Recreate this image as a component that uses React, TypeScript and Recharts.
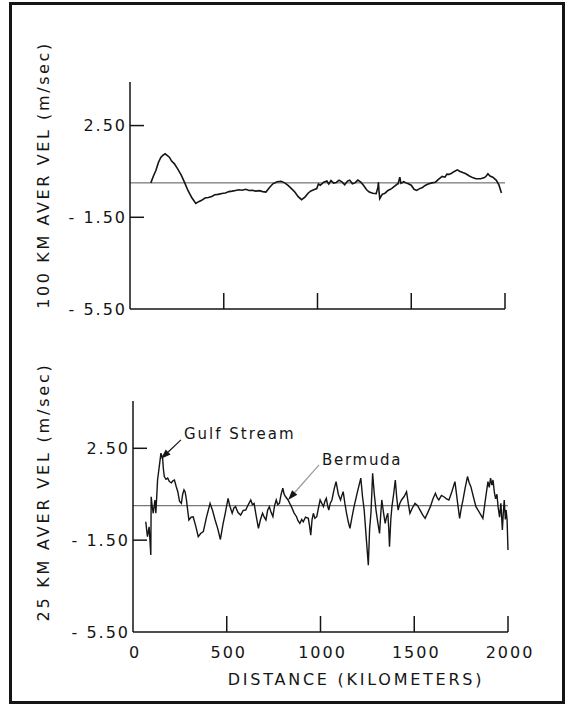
import React from "react";
import { LineChart, Line, XAxis, YAxis, ReferenceLine, ReferenceDot } from "recharts";

const FONT = "'DejaVu Sans', sans-serif";
const INK = "#151515";

// [distance km, velocity m/s] — 100 km running average (top panel)
const trace100: [number, number][] = [
  [111, 0.0], [125, 0.3], [138, 0.54], [152, 0.9], [165, 1.12], [175, 1.2], [187, 1.27], [198, 1.2],
  [210, 1.12], [222, 0.95], [237, 0.83], [255, 0.6], [274, 0.33], [292, 0.0], [309, -0.33], [330, -0.65],
  [351, -0.9], [366, -0.82], [382, -0.76], [400, -0.66], [418, -0.64], [436, -0.59], [452, -0.52], [470, -0.5],
  [490, -0.46], [508, -0.44], [528, -0.38], [545, -0.36], [563, -0.33], [580, -0.3], [598, -0.32], [617, -0.28],
  [635, -0.33], [652, -0.32], [671, -0.36], [690, -0.34], [708, -0.38], [725, -0.4], [744, -0.2], [762, -0.04],
  [785, 0.05], [806, 0.07], [825, 0.0], [843, -0.11], [861, -0.25], [879, -0.4], [897, -0.6], [915, -0.73],
  [933, -0.62], [951, -0.44], [965, -0.35], [980, -0.3], [996, -0.25], [1005, -0.05], [1015, -0.1], [1033, 0.03],
  [1050, 0.08], [1060, -0.05], [1072, 0.1], [1086, -0.01], [1100, 0.02], [1115, 0.12], [1132, 0.03], [1145, -0.08],
  [1160, 0.08], [1172, 0.12], [1186, -0.04], [1200, 0.0], [1215, 0.12], [1231, 0.03], [1245, -0.1], [1262, -0.3],
  [1276, -0.4], [1295, -0.45], [1313, -0.47], [1322, -0.2], [1325, 0.03], [1328, -0.35], [1332, -0.69], [1345, -0.5],
  [1360, -0.45], [1376, -0.33], [1395, -0.25], [1410, -0.15], [1425, -0.05], [1430, -0.04], [1439, 0.25], [1445, -0.02],
  [1460, 0.05], [1472, 0.0], [1484, -0.04], [1500, -0.1], [1515, -0.28], [1529, -0.33], [1545, -0.25], [1560, -0.2],
  [1574, -0.11], [1590, -0.05], [1610, 0.0], [1629, 0.03], [1645, 0.15], [1665, 0.28], [1680, 0.25], [1690, 0.38],
  [1701, 0.37], [1715, 0.42], [1730, 0.5], [1746, 0.57], [1760, 0.5], [1775, 0.45], [1791, 0.4], [1810, 0.3],
  [1830, 0.22], [1845, 0.18], [1870, 0.18], [1891, 0.23], [1900, 0.3], [1909, 0.4], [1920, 0.3], [1935, 0.25],
  [1954, 0.11], [1968, -0.1], [1981, -0.44],
];

// [distance km, velocity m/s] — 25 km running average (bottom panel)
const trace25: [number, number][] = [
  [68, -0.7], [77, -1.35], [86, -0.92], [95, -2.15], [97, 0.39], [102, 0.0], [108, -0.33], [117, 0.25],
  [122, -0.33], [131, 1.12], [140, 1.7], [149, 2.29], [158, 2.07], [162, 1.6], [167, 1.27], [176, 1.15],
  [185, 1.2], [194, 1.05], [205, 1.0], [213, 1.08], [221, 1.12], [230, 0.85], [239, 0.61], [248, 0.2],
  [258, 0.1], [265, 0.5], [272, 0.69], [278, 0.6], [285, 0.25], [298, -0.62], [310, -0.5], [321, -0.48],
  [335, -0.9], [348, -1.35], [362, -1.2], [375, -1.13], [392, -0.5], [411, 0.1], [424, -0.2], [438, -0.62],
  [452, -1.0], [466, -1.47], [480, -0.8], [492, -0.33], [507, 0.32], [516, 0.0], [529, -0.33], [538, -0.1],
  [547, -0.04], [560, -0.3], [574, -0.41], [588, -0.2], [601, -0.19], [615, 0.05], [628, 0.25], [637, 0.05],
  [646, 0.1], [656, -0.4], [669, -0.99], [680, -0.6], [691, -0.33], [700, -0.5], [709, -0.62], [718, -0.2],
  [727, -0.04], [737, -0.3], [746, -0.48], [755, 0.0], [764, 0.25], [772, 0.05], [781, 0.1], [790, 0.5],
  [799, 0.76], [806, 0.5], [814, 0.39], [827, 0.25], [836, 0.1], [845, -0.04], [858, -0.3], [872, -0.48],
  [880, -0.65], [890, -0.77], [900, -0.6], [908, -0.7], [920, -0.5], [935, -0.55], [942, -0.9], [948, -1.28],
  [955, -0.6], [962, -0.33], [970, -0.55], [980, -0.48], [989, -0.1], [998, 0.25], [1007, 0.1], [1016, -0.04],
  [1024, 0.2], [1031, 0.32], [1038, 0.0], [1044, -0.19], [1052, 0.1], [1061, 0.25], [1072, 0.7], [1083, 1.05],
  [1095, 0.5], [1107, 0.25], [1114, 0.45], [1121, 0.61], [1130, 0.1], [1139, -0.33], [1148, -0.7], [1157, -0.99],
  [1168, -0.5], [1179, -0.04], [1197, 0.6], [1215, 1.2], [1224, 0.4], [1233, -0.19], [1244, -1.4], [1255, -2.59],
  [1262, -1.0], [1269, -0.33], [1274, 0.6], [1278, 1.41], [1287, 0.5], [1296, -0.19], [1305, -0.7], [1315, -1.21],
  [1321, -0.4], [1327, 0.25], [1336, -0.3], [1345, -0.77], [1352, -0.5], [1359, -0.33], [1364, -1.0], [1368, -1.79],
  [1375, -0.6], [1381, -0.04], [1390, 0.5], [1399, 1.12], [1406, 0.4], [1414, -0.19], [1423, 0.1], [1432, 0.25],
  [1446, 0.4], [1459, 0.61], [1468, 0.1], [1477, -0.33], [1490, -0.1], [1504, 0.1], [1518, 0.0], [1531, -0.19],
  [1545, -0.4], [1558, -0.55], [1572, -0.3], [1586, -0.04], [1600, 0.3], [1613, 0.54], [1622, 0.35], [1631, 0.25],
  [1645, 0.45], [1658, 0.39], [1672, 0.3], [1685, 0.25], [1700, 0.6], [1717, 1.05], [1730, 0.2], [1742, -0.55],
  [1751, -0.1], [1760, 0.25], [1772, 0.8], [1784, 1.27], [1793, 1.0], [1802, 0.83], [1815, 0.4], [1829, -0.04],
  [1848, -0.3], [1866, -0.55], [1880, 0.3], [1893, 1.05], [1900, 0.8], [1907, 1.2], [1914, 0.9], [1920, 1.12],
  [1927, 0.6], [1934, 0.3], [1941, 0.5], [1947, -0.04], [1955, -0.5], [1962, 0.1], [1970, -1.06], [1975, -0.3],
  [1980, 0.25], [1986, -0.6], [1990, -0.19], [1995, -0.6], [2000, -1.93],
];

const yTicks = [2.5, -1.5, -5.5];
const yTickLabels = ["2.50", "- 1.50", "- 5.50"];
const xTicks = [0, 500, 1000, 1500, 2000];
const xTickLabels = ["0", "500", "1000", "1500", "2000"];

const data100 = trace100.map(([km, v]) => ({ km, v }));
const data25 = trace25.map(([km, v]) => ({ km, v }));

const textStyle = { fontFamily: FONT, fontSize: 16, fill: INK, letterSpacing: 2 };

function YTick({ x, y, payload }: any) {
  const i = yTicks.indexOf(payload.value);
  return (
    <g>
      {payload.value !== -5.5 && <line x1={x} x2={x + 14} y1={y} y2={y} stroke={INK} strokeWidth={1.5} />}
      <text x={x - 3} y={y} dy="0.36em" textAnchor="end" style={textStyle}>
        {yTickLabels[i]}
      </text>
    </g>
  );
}

function XTick({ x, y, payload, showLabel }: any) {
  const i = xTicks.indexOf(payload.value);
  return (
    <g>
      {payload.value !== 0 && <line x1={x} x2={x} y1={y} y2={y - 16} stroke={INK} strokeWidth={1.5} />}
      {showLabel && (
        <text x={x + 2} y={y + 26} textAnchor="middle" style={textStyle}>
          {xTickLabels[i]}
        </text>
      )}
    </g>
  );
}

function Pointer({ cx, cy, dx, dy, tx, ty, text, shaft, spacing }: any) {
  const len = Math.hypot(dx, dy);
  const ux = -dx / len;
  const uy = -dy / len;
  const bx = cx - ux * 10;
  const by = cy - uy * 10;
  const px = -uy * 3.5;
  const py = ux * 3.5;
  return (
    <g>
      <line x1={cx + dx} y1={cy + dy} x2={bx} y2={by} stroke={shaft} strokeWidth={1.2} />
      <polygon points={`${cx},${cy} ${bx + px},${by + py} ${bx - px},${by - py}`} fill={INK} />
      <text x={cx + tx} y={cy + ty} style={{ ...textStyle, fontSize: 15, letterSpacing: spacing }}>
        {text}
      </text>
    </g>
  );
}

export default function App() {
  return (
    <div style={{ position: "absolute", left: 0, top: 0, width: 571, height: 704, background: "#fff", overflow: "hidden" }}>
      <div
        style={{
          position: "absolute",
          left: 9,
          top: 2,
          width: 556,
          height: 702,
          border: `3px solid ${INK}`,
          boxSizing: "border-box",
        }}
      />

      <div style={{ position: "absolute", left: 0, top: 0 }}>
        <LineChart width={571} height={340} data={data100} margin={{ top: 82, right: 66, left: 0, bottom: 0 }}>
          <XAxis
            type="number"
            dataKey="km"
            domain={[0, 2000]}
            ticks={xTicks}
            interval={0}
            height={31}
            tickSize={0}
            tickMargin={0}
            tickLine={false}
            axisLine={{ stroke: INK, strokeWidth: 1.5 }}
            tick={<XTick showLabel={false} />}
          />
          <YAxis
            type="number"
            domain={[-5.5, 4.4]}
            ticks={yTicks}
            interval={0}
            width={130}
            tickSize={0}
            tickMargin={0}
            tickLine={false}
            axisLine={{ stroke: INK, strokeWidth: 1.5 }}
            tick={<YTick />}
          />
          <ReferenceLine y={0} stroke="#555" strokeWidth={1} />
          <Line type="linear" dataKey="v" stroke={INK} strokeWidth={1.6} dot={false} isAnimationActive={false} />
        </LineChart>
      </div>

      <div style={{ position: "absolute", left: 0, top: 0 }}>
        <LineChart width={571} height={704} data={data25} margin={{ top: 401, right: 63, left: 0, bottom: 0 }}>
          <XAxis
            type="number"
            dataKey="km"
            domain={[0, 2000]}
            ticks={xTicks}
            interval={0}
            height={72}
            tickSize={0}
            tickMargin={0}
            tickLine={false}
            axisLine={{ stroke: INK, strokeWidth: 1.5 }}
            tick={<XTick showLabel />}
          />
          <YAxis
            type="number"
            domain={[-5.5, 4.56]}
            ticks={yTicks}
            interval={0}
            width={133}
            tickSize={0}
            tickMargin={0}
            tickLine={false}
            axisLine={{ stroke: INK, strokeWidth: 1.5 }}
            tick={<YTick />}
          />
          <ReferenceLine y={0} stroke="#555" strokeWidth={1} />
          <Line type="linear" dataKey="v" stroke={INK} strokeWidth={1.4} dot={false} isAnimationActive={false} />
          <ReferenceDot
            x={149}
            y={2.04}
            r={0}
            shape={(p: any) => (
              <Pointer {...p} dx={20} dy={-19} tx={23} ty={-20} text="Gulf Stream" shaft={INK} spacing={2} />
            )}
          />
          <ReferenceDot
            x={827}
            y={0.25}
            r={0}
            shape={(p: any) => (
              <Pointer {...p} dx={31} dy={-35} tx={34} ty={-35} text="Bermuda" shaft="#9a9a9a" spacing={1.7} />
            )}
          />
        </LineChart>
      </div>

      <svg width={571} height={704} style={{ position: "absolute", left: 0, top: 0, pointerEvents: "none" }}>
        <text
          x={43}
          y={175}
          transform="rotate(-90 43 175)"
          textAnchor="middle"
          dominantBaseline="central"
          style={{ ...textStyle, letterSpacing: 2.6 }}
        >
          100 KM AVER VEL (m/sec)
        </text>
        <text
          x={43}
          y={492}
          transform="rotate(-90 43 492)"
          textAnchor="middle"
          dominantBaseline="central"
          style={{ ...textStyle, letterSpacing: 2.8 }}
        >
          25 KM AVER VEL (m/sec)
        </text>
        <text x={356} y={685} textAnchor="middle" style={{ ...textStyle, letterSpacing: 2.75 }}>
          DISTANCE (KILOMETERS)
        </text>
      </svg>
    </div>
  );
}
